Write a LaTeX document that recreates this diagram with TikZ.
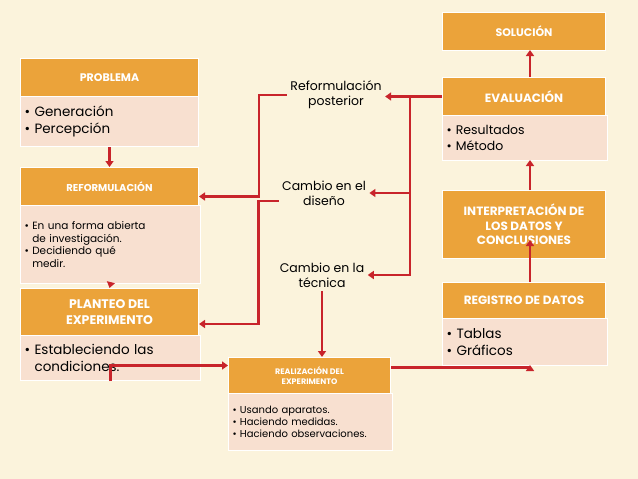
\documentclass[tikz,border=0pt]{standalone}
\usepackage{fontspec}
\setmainfont{Poppins}
\usetikzlibrary{arrows.meta,positioning}
\definecolor{cream}{HTML}{FBF3DC}
\definecolor{orng}{HTML}{EBA33A}
\definecolor{pinkbg}{HTML}{F8E0D0}
\definecolor{darkred}{HTML}{C8242B}
\newcommand{\fs}[1]{\fontsize{#1pt}{\dimexpr #1pt*122/100\relax}\selectfont}
\tikzset{
  head/.style={fill=orng, draw=white, line width=1pt, text=white, font=\bfseries\fs{11},
    align=center, anchor=north west, inner sep=2pt},
  body/.style={fill=pinkbg, draw=white, line width=1pt, text=black,
    align=left, anchor=north west, inner xsep=4pt, inner ysep=3pt},
  lbl/.style={align=center, font=\fs{12.5}},
  link/.style={draw=darkred, line width=2.5pt, -{Triangle[length=6pt,width=8pt]}},
}
\begin{document}
\begin{tikzpicture}[x=1pt,y=-1pt]
\fill[cream] (0,0) rectangle (638,479);
\useasboundingbox (0,0) rectangle (638,479);

% left column
\node[head, minimum width=178pt, minimum height=38pt] (prob) at (20,58) {PROBLEMA};
\node[body, minimum width=178pt, minimum height=50pt, text width=170pt, font=\fs{13.5}] (probb) at (20,96)
  {\textbullet\ Generación\\\textbullet\ Percepción};
\node[head, minimum width=178pt, minimum height=38pt, font=\bfseries\fs{10}] (refo) at (20,167) {REFORMULACIÓN};
\node[body, minimum width=178pt, minimum height=78pt, text width=172pt, font=\fs{10.5}] (refob) at (20,205)
  {\textbullet\ En una forma abierta\\\phantom{\textbullet\ }de investigación.\\\textbullet\ Decidiendo qué\\\phantom{\textbullet\ }medir.};
\node[head, minimum width=178pt, minimum height=47pt, font=\bfseries\fs{12.5}] (plan) at (20,288) {PLANTEO DEL\\EXPERIMENTO};
\node[body, minimum width=178pt, minimum height=45pt, text width=172pt, font=\fs{13.5}] (planb) at (20,335)
  {\textbullet\ Estableciendo las\\\phantom{\textbullet\ }condiciones.};

% middle
\node[head, minimum width=162pt, minimum height=36pt, font=\bfseries\fs{8}] (real) at (228,357) {REALIZACIÓN DEL\\EXPERIMENTO};
\node[body, minimum width=162pt, minimum height=57pt, text width=156pt, font=\fs{10}] (realb) at (228,393)
  {\textbullet\ Usando aparatos.\\\textbullet\ Haciendo medidas.\\\textbullet\ Haciendo observaciones.};
\node[lbl] (rpost) at (336,95) {Reformulación\\posterior};
\node[lbl] (cdis) at (324,193) {Cambio en el\\diseño};
\node[lbl] (ctec) at (322,275) {Cambio en la\\técnica};

% right column
\node[head, minimum width=163pt, minimum height=38pt] (sol) at (442,12) {SOLUCIÓN};
\node[head, minimum width=163pt, minimum height=38pt, font=\bfseries\fs{12}] (eval) at (442,77) {EVALUACIÓN};
\node[body, minimum width=163pt, minimum height=45pt, text width=157pt, font=\fs{12.5}] (evalb) at (442,115)
  {\textbullet\ Resultados\\\textbullet\ Método};
\node[head, minimum width=163pt, minimum height=68pt, font=\bfseries\fs{12}] (interp) at (442,190)
  {INTERPRETACIÓN DE\\LOS DATOS Y\\CONCLUSIONES};
\node[head, minimum width=163pt, minimum height=36pt, font=\bfseries\fs{12}] (reg) at (442,282) {REGISTRO DE DATOS};
\node[body, minimum width=163pt, minimum height=47pt, text width=157pt, font=\fs{13.5}] (regb) at (442,318)
  {\textbullet\ Tablas\\\textbullet\ Gráficos};

\coordinate (split) at (410,95);
\draw[link] (probb.south) -- (refo.north);
\draw[link] (refob.south) -- (plan.north);
\draw[link] (eval.west) -- (rpost.east |- eval.west);
\draw[link] (split) |- (cdis.east);
\draw[link] (split) |- (ctec.east);
\draw[link] (rpost.west) -- ++(-28,0) |- ([yshift=-10pt]refo.east);
\draw[link] ([yshift=-8pt]cdis.west) -- ++(-20,0) |- ([yshift=-12pt]plan.east);
\draw[link] (ctec.south) -- (ctec.south |- real.north);
\draw[link] (planb.south) |- ([yshift=10pt]real.west);
\draw[link] ([yshift=8pt]real.east) -| (530,365);
\draw[link] (530,282) -- (530,240);
\draw[link] (530,190) -- (530,160);
\draw[link] (530,77) -- (530,50);
\end{tikzpicture}
\end{document}
